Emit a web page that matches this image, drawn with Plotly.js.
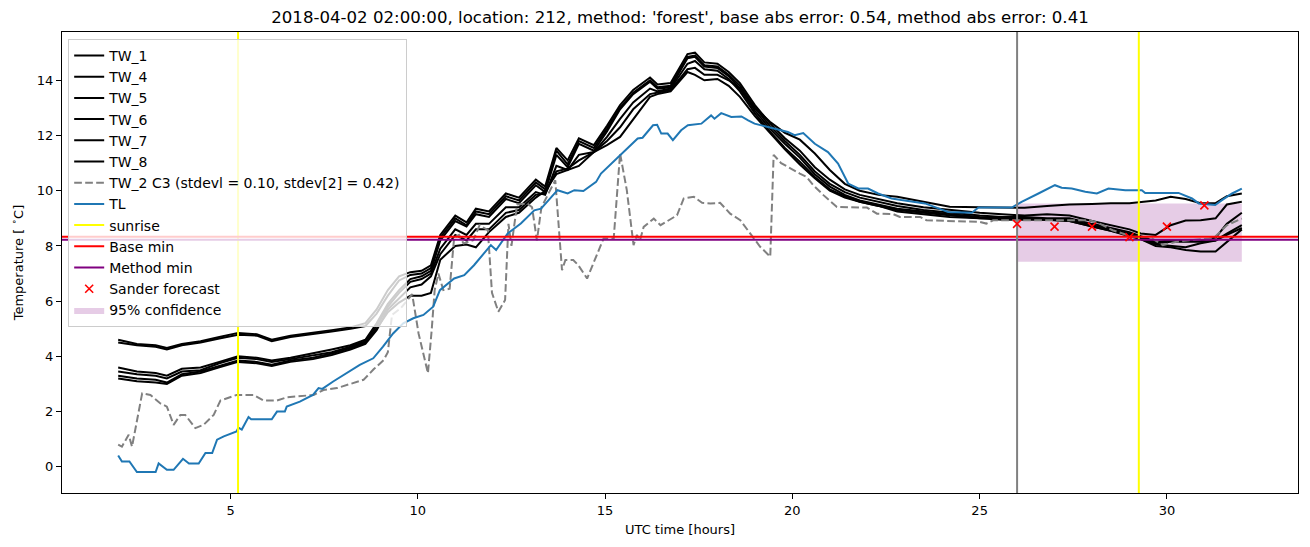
<!DOCTYPE html>
<html>
<head>
<meta charset="utf-8">
<script src="https://cdn.plot.ly/plotly-3.0.1.min.js"></script>
<style>html,body{margin:0;padding:0;background:#fff;}#chart{width:1310px;height:547px;}</style>
</head>
<body>
<div id="chart"></div>
<script>
// ---------- data ----------
const twTime = [2.0,2.5,3.0,3.3,3.7,4.2,4.7,5.2,5.7,6.1,
  6.6,7.2,7.7,8.2,8.6,8.9,9.2,9.5,9.8,10.1,
  10.35,10.6,11.0,11.3,11.55,11.9,12.35,12.7,13.15,13.4,
  13.7,14.0,14.3,14.7,15.05,15.4,15.75,16.2,16.4,16.75,
  17.2,17.4,17.65,18.0,18.3,18.6,19.0,19.4,19.8,20.2,
  20.6,21.0,21.4,21.8,22.3,22.8,23.5,24.2,25.0,25.6,
  26.2,26.8,27.4,28.0,28.5,29.0,29.3,29.7,30.1,30.5,
  30.9,31.3,31.6,32.0];
const tw1 = [4.6,4.45,4.4,4.3,4.45,4.55,4.7,4.85,4.8,4.6,
  4.75,4.85,4.95,5.05,5.2,5.7,6.4,6.9,7.05,7.1,
  7.3,8.4,9.1,8.85,9.35,9.25,9.9,9.75,10.4,10.15,
  11.55,11.1,11.9,11.65,12.35,13.1,13.65,14.1,13.85,13.9,
  14.95,15.0,14.65,14.6,14.3,13.9,13.1,12.45,11.9,11.45,
  10.85,10.4,10.05,9.85,9.7,9.55,9.4,9.3,9.2,9.15,
  9.1,9.15,9.1,8.9,8.75,8.6,8.45,8.4,8.75,8.92,
  8.93,9.0,9.5,9.6];
const tw4 = [4.5,4.4,4.35,4.25,4.4,4.5,4.65,4.78,4.75,4.55,
  4.7,4.8,4.9,5.0,5.1,5.55,6.2,6.75,6.95,7.0,
  7.2,8.3,9.0,8.75,9.25,9.15,9.8,9.65,10.3,10.05,
  11.45,10.95,11.8,11.55,12.25,13.0,13.55,14.0,13.75,13.8,
  14.85,14.9,14.55,14.5,14.2,13.8,13.0,12.35,11.8,11.3,
  10.7,10.25,9.95,9.75,9.6,9.45,9.3,9.2,9.1,9.05,
  9.05,9.0,9.0,8.8,8.65,8.5,8.35,8.15,8.2,8.2,
  8.2,8.3,8.8,9.2];
const tw5 = [3.6,3.45,3.4,3.3,3.55,3.6,3.8,4.0,3.95,3.85,
  3.95,4.1,4.25,4.4,4.6,5.2,5.9,6.4,6.8,6.9,
  7.1,8.2,8.9,8.7,9.15,9.05,9.7,9.55,10.2,9.95,
  11.3,10.85,11.7,11.45,12.15,12.95,13.5,13.95,13.7,13.75,
  14.8,14.85,14.5,14.45,14.15,13.7,12.9,12.25,11.7,11.2,
  10.6,10.15,9.85,9.65,9.5,9.35,9.25,9.15,9.05,9.0,
  9.0,8.95,8.95,8.75,8.6,8.45,8.3,8.1,8.15,8.15,
  8.15,8.2,8.45,8.75];
const tw6 = [3.45,3.35,3.3,3.2,3.45,3.5,3.75,3.95,3.9,3.8,
  3.9,4.05,4.15,4.35,4.55,5.1,5.8,6.3,6.7,6.8,
  7.0,7.9,8.6,8.4,8.8,8.8,9.4,9.4,9.95,9.85,
  10.9,10.75,11.3,11.4,11.95,12.6,13.2,13.7,13.6,13.7,
  14.6,14.7,14.4,14.35,14.05,13.6,12.8,12.15,11.55,11.05,
  10.5,10.05,9.8,9.6,9.45,9.3,9.2,9.1,9.0,9.0,
  9.0,8.95,8.9,8.7,8.55,8.35,8.25,8.05,8.0,7.95,
  8.1,8.2,8.4,8.65];
const tw7 = [3.3,3.2,3.15,3.05,3.35,3.45,3.65,3.85,3.8,3.7,
  3.85,3.95,4.1,4.3,4.5,5.0,5.6,5.95,6.2,6.2,
  6.3,7.5,8.0,8.05,7.95,8.5,9.05,9.2,9.75,10.0,
  10.6,10.75,10.9,11.4,11.65,11.95,12.6,13.4,13.5,13.6,
  14.3,14.2,14.0,14.05,13.8,13.4,12.7,12.1,11.5,10.95,
  10.45,10.0,9.75,9.6,9.45,9.25,9.15,9.05,9.0,8.95,
  8.95,8.95,8.9,8.7,8.55,8.4,8.25,8.0,7.95,7.85,
  7.8,7.8,8.15,8.6];
const tw8 = [3.2,3.1,3.05,3.0,3.3,3.4,3.6,3.8,3.75,3.65,
  3.8,3.9,4.05,4.25,4.45,4.95,5.7,6.1,6.5,6.6,
  6.9,7.7,8.4,8.2,8.6,8.6,9.2,9.3,9.85,9.9,
  10.7,10.8,11.1,11.4,11.8,12.3,12.95,13.5,13.55,13.65,
  14.4,14.45,14.2,14.2,14.0,13.7,13.0,12.5,12.1,11.85,
  11.35,10.75,10.25,10.0,9.85,9.78,9.6,9.42,9.4,9.4,
  9.38,9.45,9.5,9.52,9.55,9.55,9.6,9.65,9.78,9.7,
  9.55,9.55,9.8,9.9];

const c3Time = [2.0,2.1,2.28,2.37,2.64,2.86,3.12,3.3,3.48,3.66,
  3.79,4.06,4.28,4.55,4.73,4.9,5.16,5.61,5.88,6.24,
  6.51,7.22,7.48,7.84,8.1,8.55,8.82,9.09,9.2,9.31,
  9.55,9.85,10.02,10.27,10.37,10.45,10.55,10.68,10.85,10.97,
  11.1,11.22,11.48,11.65,11.87,11.98,12.15,12.33,12.42,12.5,
  12.65,12.92,13.05,13.18,13.3,13.67,13.85,13.94,14.15,14.28,
  14.52,14.96,15.23,15.4,15.58,15.76,15.85,15.93,16.03,16.3,
  16.48,16.92,17.1,17.37,17.59,17.81,18.07,18.34,18.61,18.88,
  19.14,19.41,19.5,19.7,19.95,20.2,20.38,20.56,20.83,21.19,
  21.99,22.26,22.7,22.87,23.41,23.58,25.0,25.18,25.36,27.94,
  28.2,28.55,29.08,29.53,29.89,30.25,30.6,31.24,31.6,31.78,
  32.0];
const c3Vals = [0.8,0.73,1.16,0.73,2.66,2.6,2.3,2.18,1.52,1.88,
  1.88,1.4,1.52,1.88,2.4,2.48,2.6,2.6,2.4,2.4,
  2.52,2.6,2.78,2.85,2.97,3.15,3.53,3.87,4.15,5.5,
  5.75,6.25,4.83,3.39,4.95,6.4,7.0,6.4,6.45,8.3,
  8.4,8.09,8.21,8.75,8.57,6.3,5.62,6.04,8.8,8.0,
  9.5,9.54,9.4,8.2,9.4,10.38,7.12,7.49,7.49,7.31,
  6.82,8.27,8.27,11.35,10.02,8.03,8.4,8.2,8.69,8.99,
  8.75,9.11,9.72,9.78,9.56,9.54,9.56,9.17,8.93,8.45,
  7.97,7.61,11.3,11.0,10.8,10.62,10.5,10.2,9.84,9.41,
  9.39,9.17,9.15,9.05,9.05,8.93,8.87,8.81,8.93,8.93,
  8.81,8.57,8.33,8.33,8.03,8.15,8.21,8.27,8.75,8.87,
  8.99];

const tlTime = [2.0,2.1,2.3,2.5,3.0,3.08,3.3,3.48,3.73,3.89,
  4.15,4.33,4.51,4.64,4.82,5.0,5.16,5.21,5.3,5.48,
  5.55,6.1,6.24,6.45,6.5,6.85,7.2,7.35,7.45,7.74,
  8.1,8.45,8.81,9.07,9.34,9.61,9.88,10.15,10.41,10.59,
  10.97,11.24,11.5,11.95,12.09,12.4,12.75,13.11,13.29,13.73,
  14.0,14.18,14.42,14.76,14.89,15.25,15.52,15.87,16.0,16.28,
  16.39,16.5,16.67,16.81,17.03,17.21,17.57,17.83,17.92,18.1,
  18.37,18.64,18.82,18.99,19.35,19.53,19.88,20.06,20.29,20.6,
  20.95,21.22,21.49,21.76,22.02,22.29,22.65,22.91,23.27,23.54,
  23.9,24.16,24.79,24.97,25.86,26.12,26.57,26.84,27.01,27.19,
  27.46,27.82,28.13,28.44,28.89,29.33,29.42,30.31,30.67,30.85,
  31.29,31.47,31.74,32.0];
const tlVals = [0.41,0.19,0.19,-0.19,-0.19,0.12,-0.11,-0.11,0.29,0.12,
  0.12,0.5,0.5,0.98,1.1,1.2,1.28,1.42,1.35,1.8,
  1.72,1.72,2.0,2.0,2.18,2.36,2.6,2.85,2.82,3.09,
  3.39,3.69,3.93,4.35,4.83,5.2,5.38,5.5,5.8,6.4,
  6.82,6.94,7.3,8.03,7.85,8.45,8.81,9.29,9.35,10.02,
  9.9,10.02,9.99,10.32,10.62,11.1,11.46,11.89,11.92,12.37,
  12.39,12.07,12.07,11.83,12.19,12.37,12.43,12.73,12.61,12.81,
  12.67,12.69,12.55,12.43,12.31,12.25,12.13,12.01,12.09,11.7,
  11.4,10.98,10.26,10.08,10.08,9.9,9.72,9.66,9.6,9.54,
  9.36,9.23,9.2,9.39,9.39,9.6,9.9,10.08,10.2,10.11,
  10.08,9.96,9.9,10.08,10.02,10.02,9.92,9.92,9.72,9.54,
  9.48,9.66,9.9,10.08];

const sunriseTimes = [5.2, 29.25];
const forecastStart = 26;
const baseMin = 8.33;
const methodMin = 8.22;
const sanderTime = [26, 27, 28, 29, 30, 31];
const sanderVals = [8.8, 8.7, 8.7, 8.32, 8.7, 9.47];
const confTime = [26, 32];
const confLow = 7.43;
const confHigh = 9.54;

const twNames = ['TW_1','TW_4','TW_5','TW_6','TW_7','TW_8'];
const twSeries = [tw1, tw4, tw5, tw6, tw7, tw8];
const c3Name = 'TW_2 C3 (stdevl = 0.10, stdev[2] = 0.42)';
const titleText = "2018-04-02 02:00:00, location: 212, method: 'forest', base abs error: 0.54, method abs error: 0.41";

// ---------- chart ----------
const X_RANGE = [0.5, 33.5];
const Y_RANGE = [-0.95, 15.75];
const FONT = 'DejaVu Sans, sans-serif';

const traces = [];
traces.push({
  x: [confTime[0], confTime[1], confTime[1], confTime[0], confTime[0]],
  y: [confLow, confLow, confHigh, confHigh, confLow],
  mode: 'lines', fill: 'toself', fillcolor: 'rgba(128,0,128,0.2)',
  line: {width: 0, color: 'rgba(128,0,128,0.2)'},
  name: '95% confidence', legendrank: 13, hoverinfo: 'skip'
});
twSeries.forEach((s, i) => {
  traces.push({x: twTime, y: s, mode: 'lines', name: twNames[i],
    line: {color: 'black', width: 2}, legendrank: i + 1});
});
traces.push({x: c3Time, y: c3Vals, mode: 'lines', name: c3Name,
  line: {color: 'gray', width: 2, dash: '7.7px,3.3px'}, legendrank: 7});
traces.push({x: tlTime, y: tlVals, mode: 'lines', name: 'TL',
  line: {color: '#1f77b4', width: 2}, legendrank: 8});
traces.push({x: [sunriseTimes[0], sunriseTimes[0], null, sunriseTimes[1], sunriseTimes[1]],
  y: [Y_RANGE[0], Y_RANGE[1], null, Y_RANGE[0], Y_RANGE[1]],
  mode: 'lines', name: 'sunrise', line: {color: 'yellow', width: 2}, legendrank: 9});
traces.push({x: X_RANGE, y: [baseMin, baseMin], mode: 'lines', name: 'Base min',
  line: {color: 'red', width: 2}, legendrank: 10});
traces.push({x: X_RANGE, y: [methodMin, methodMin], mode: 'lines', name: 'Method min',
  line: {color: 'purple', width: 2}, legendrank: 11});
traces.push({x: [forecastStart, forecastStart], y: Y_RANGE, mode: 'lines',
  line: {color: 'gray', width: 2}, showlegend: false});
traces.push({x: sanderTime, y: sanderVals, mode: 'markers', name: 'Sander forecast',
  marker: {symbol: 'x-thin', size: 8, color: 'red', line: {color: 'red', width: 1.6}},
  legendrank: 12});

const axisCommon = {
  showline: true, mirror: true, linecolor: 'black', linewidth: 1,
  showgrid: false, zeroline: false, ticks: 'outside', ticklen: 5, tickwidth: 1,
  tickcolor: 'black', tickfont: {family: FONT, size: 13, color: 'black'}
};

const layout = {
  width: 1310, height: 547,
  margin: {l: 62, r: 12, t: 32, b: 54, pad: 0},
  paper_bgcolor: 'white', plot_bgcolor: 'white',
  font: {family: FONT, color: 'black'},
  title: {text: titleText, font: {family: FONT, size: 16.6, color: 'black'},
    xref: 'paper', x: 0.5, xanchor: 'center', yref: 'container', y: 0.969, yanchor: 'middle'},
  xaxis: Object.assign({}, axisCommon, {range: X_RANGE, tickvals: [5,10,15,20,25,30],
    title: {text: 'UTC time [hours]', font: {family: FONT, size: 13, color: 'black'}, standoff: 8}}),
  yaxis: Object.assign({}, axisCommon, {range: Y_RANGE, tickvals: [0,2,4,6,8,10,12,14],
    title: {text: 'Temperature [ <sup>∘</sup>C]', font: {family: FONT, size: 13, color: 'black'}, standoff: 10}}),
  legend: {x: 0.005, y: 0.985, xanchor: 'left', yanchor: 'top',
    bgcolor: 'rgba(255,255,255,0.8)', bordercolor: '#cccccc', borderwidth: 1,
    font: {family: FONT, size: 14, color: 'black'}, tracegroupgap: 0, itemwidth: 30},
  showlegend: true
};

Plotly.newPlot('chart', traces, layout, {displayModeBar: false, staticPlot: true});
</script>
</body>
</html>
